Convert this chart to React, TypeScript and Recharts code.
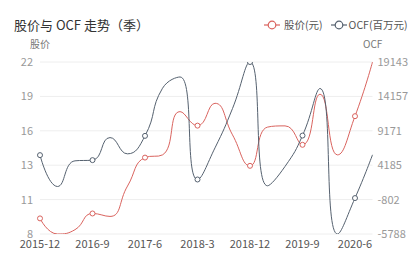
import React from 'react';
import { LineChart, Line, XAxis, YAxis, CartesianGrid } from 'recharts';

const quarters = ['2015-12','2016-3','2016-6','2016-9','2016-12','2017-3','2017-6','2017-9','2017-12','2018-3','2018-6','2018-9','2018-12','2019-3','2019-6','2019-9','2019-12','2020-3','2020-6','2020-9'];
const price = [9.57, 8.3, 8.65, 9.97, 9.73, 12.2, 14.52, 14.74, 18.26, 17.12, 18.94, 16.37, 13.85, 17.0, 17.1, 15.56, 19.68, 14.74, 17.89, 22.3];
const ocf = [5643, 1099, 4818, 4919, 8189, 5831, 8435, 15337, 16972, 2112, 6700, 12400, 19143, 1200, 4000, 8479, 15300, -5788, -580, 5686];
const leftTicks = [8.3, 11.1, 13.9, 16.7, 19.5, 22.3];
const rightTicks = [-5788, -802, 4185, 9171, 14157, 19143];
const seriesNames = ['股价(元)', 'OCF(百万元)'];
const title = '股价与 OCF 走势（季）';
const leftName = '股价';
const rightName = 'OCF';

const RED = '#d9635e';
const GRAY = '#55616f';
const FONT = '"Noto Sans CJK SC", "Noto Sans", sans-serif';

const data = quarters.map((q, i) => ({ q, price: price[i], ocf: ocf[i] }));

function echartsSmooth(context: any) {
  let pts: number[][] = [];
  return {
    areaStart() {},
    areaEnd() {},
    lineStart() { pts = []; },
    point(x: number, y: number) { pts.push([+x, +y]); },
    lineEnd() {
      const smooth = 0.5;
      const n = pts.length;
      if (!n) return;
      let cpx0 = pts[0][0], cpy0 = pts[0][1];
      context.moveTo(pts[0][0], pts[0][1]);
      for (let i = 1; i < n; i++) {
        const x = pts[i][0], y = pts[i][1];
        const px = pts[i - 1][0], py = pts[i - 1][1];
        let cpx1: number, cpy1: number, ncx: number, ncy: number;
        if (i === n - 1) {
          cpx1 = x; cpy1 = y; ncx = x; ncy = y;
        } else {
          const nx = pts[i + 1][0], ny = pts[i + 1][1];
          let vx = nx - px, vy = ny - py;
          const lp = Math.hypot(x - px, y - py);
          const ln = Math.hypot(nx - x, ny - y);
          const r = ln / (ln + lp);
          ncx = x + vx * smooth * r; ncy = y + vy * smooth * r;
          ncx = Math.min(ncx, Math.max(nx, x)); ncy = Math.min(ncy, Math.max(ny, y));
          ncx = Math.max(ncx, Math.min(nx, x)); ncy = Math.max(ncy, Math.min(ny, y));
          vx = ncx - x; vy = ncy - y;
          cpx1 = x - vx * lp / ln; cpy1 = y - vy * lp / ln;
          cpx1 = Math.min(cpx1, Math.max(px, x)); cpy1 = Math.min(cpy1, Math.max(py, y));
          cpx1 = Math.max(cpx1, Math.min(px, x)); cpy1 = Math.max(cpy1, Math.min(py, y));
          vx = x - cpx1; vy = y - cpy1;
          ncx = x + vx * ln / lp; ncy = y + vy * ln / lp;
        }
        context.bezierCurveTo(cpx0, cpy0, cpx1, cpy1, x, y);
        cpx0 = ncx; cpy0 = ncy;
      }
    },
  };
}

const makeDot = (color: string) => (props: any) => {
  const { cx, cy, index } = props;
  if (index % 3 !== 0 || cx == null || cy == null) return <g key={`d${index}`} />;
  return <circle key={`d${index}`} cx={cx} cy={cy} r={2.5} fill="#fff" stroke={color} strokeWidth={1} />;
};

const LegendIcon = ({ color }: { color: string }) => (
  <svg width={16} height={10} style={{ display: 'block' }}>
    <line x1={0} y1={5} x2={16} y2={5} stroke={color} strokeWidth={1.2} />
    <circle cx={8} cy={5} r={3.8} fill="#fff" stroke={color} strokeWidth={1.2} />
  </svg>
);

export default function App() {
  const colors = [RED, GRAY];
  return (
    <div style={{ position: 'absolute', left: 0, top: 0, width: 418, height: 270, background: '#fff', fontFamily: FONT }}>
      <div style={{ position: 'absolute', left: 14, top: 16, fontSize: 13, color: '#333', lineHeight: '18px', whiteSpace: 'nowrap' }}>{title}</div>
      <div style={{ position: 'absolute', left: 264, top: 18, display: 'flex', alignItems: 'center', fontSize: 10.5, color: '#555', lineHeight: '14px', whiteSpace: 'nowrap' }}>
        {seriesNames.map((n, i) => (
          <div key={n} style={{ display: 'flex', alignItems: 'center', marginRight: i === 0 ? 8 : 0 }}>
            <LegendIcon color={colors[i]} />
            <span style={{ marginLeft: i === 0 ? 4 : 2 }}>{n}</span>
          </div>
        ))}
      </div>
      <div style={{ position: 'absolute', left: 30, top: 37, fontSize: 10, color: '#777', lineHeight: '14px' }}>{leftName}</div>
      <div style={{ position: 'absolute', left: 363, top: 37, fontSize: 10, color: '#777', lineHeight: '14px' }}>{rightName}</div>
      <LineChart width={418} height={270} data={data} margin={{ top: 62, right: 0, left: 0, bottom: 0 }}>
        <CartesianGrid horizontal vertical={false} stroke="#eeeeee" yAxisId="l" />
        <XAxis dataKey="q" interval={2} axisLine={false} tickLine={false} tickSize={0} tickMargin={6} height={36}
          tick={{ fontSize: 11, fill: '#555', fontFamily: FONT }} />
        <YAxis yAxisId="l" orientation="left" width={40} domain={[8.3, 22.3]} ticks={leftTicks} allowDataOverflow
          axisLine={false} tickLine={false} tickSize={0} tickMargin={7} interval={0}
          tickFormatter={(v: number) => String(Math.floor(v + 1e-9))}
          tick={{ fontSize: 11, fill: '#999', fontFamily: FONT }} />
        <YAxis yAxisId="r" orientation="right" width={45.5} domain={[-5788, 19143]} ticks={rightTicks} allowDataOverflow
          axisLine={false} tickLine={false} tickSize={0} tickMargin={5} interval={0}
          tick={{ fontSize: 11, fill: '#999', fontFamily: FONT }} />
        <Line yAxisId="l" dataKey="price" type={echartsSmooth as any} stroke={RED} strokeWidth={1}
          dot={makeDot(RED)} activeDot={false} isAnimationActive={false} />
        <Line yAxisId="r" dataKey="ocf" type={echartsSmooth as any} stroke={GRAY} strokeWidth={1}
          dot={makeDot(GRAY)} activeDot={false} isAnimationActive={false} />
      </LineChart>
    </div>
  );
}
